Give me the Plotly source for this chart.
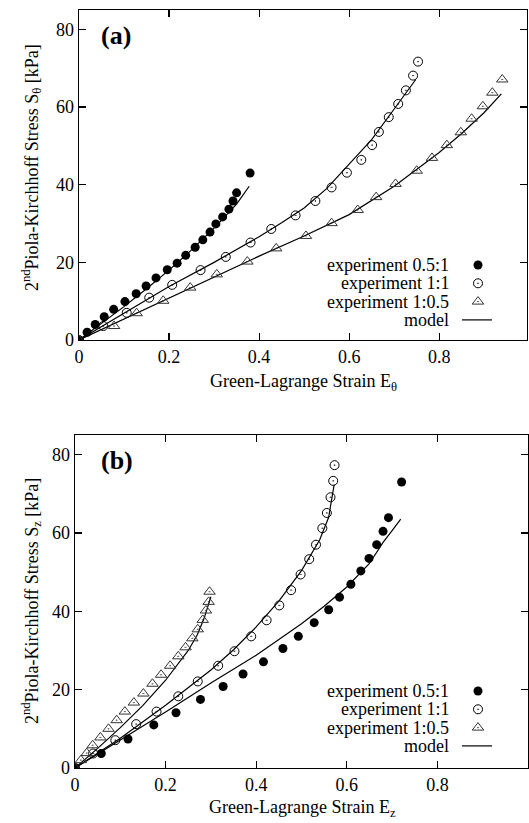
import plotly.graph_objects as go

W, H = 529, 823

# ---------------- Panel (a): circumferential ----------------
a_exp_05_1_x = [0, 0.018, 0.036, 0.056, 0.077, 0.102, 0.127, 0.149, 0.171, 0.196, 0.218,
                0.237, 0.258, 0.275, 0.291, 0.304, 0.319, 0.333, 0.342, 0.350, 0.380]
a_exp_05_1_y = [0, 2.0, 4.0, 6.0, 7.9, 9.9, 11.9, 13.9, 16.0, 18.1, 19.8,
                21.8, 23.9, 25.8, 27.8, 29.9, 31.7, 33.7, 35.8, 37.9, 43.0]

a_exp_1_1_x = [0, 0.054, 0.106, 0.156, 0.207, 0.270, 0.326, 0.381, 0.427, 0.481, 0.525,
               0.561, 0.595, 0.627, 0.651, 0.666, 0.688, 0.709, 0.726, 0.742, 0.753]
a_exp_1_1_y = [0, 3.6, 7.0, 10.9, 14.2, 18.0, 21.4, 25.1, 28.6, 32.1, 35.8,
               39.3, 43.1, 46.4, 50.2, 53.6, 57.4, 60.8, 64.3, 68.1, 71.7]

a_exp_1_05_x = [0, 0.078, 0.128, 0.187, 0.247, 0.306, 0.374, 0.438, 0.504, 0.561, 0.619,
                0.660, 0.703, 0.750, 0.784, 0.817, 0.848, 0.872, 0.897, 0.918, 0.940]
a_exp_1_05_y = [0, 3.6, 6.9, 10.1, 13.5, 16.9, 20.2, 23.6, 26.8, 30.1, 33.5,
                36.8, 40.2, 43.6, 46.9, 50.2, 53.5, 57.0, 60.2, 63.7, 67.1]

a_mod_05_1_x = [0, 0.05, 0.10, 0.15, 0.20, 0.25, 0.30, 0.35, 0.378]
a_mod_05_1_y = [0, 4.2, 8.6, 13.2, 18.0, 23.2, 28.8, 35.0, 39.6]

a_mod_1_1_x = [0, 0.10, 0.20, 0.30, 0.40, 0.45, 0.50, 0.55, 0.60, 0.65, 0.70, 0.748]
a_mod_1_1_y = [0, 6.8, 13.8, 20.0, 26.6, 30.2, 34.0, 39.0, 45.2, 51.6, 59.5, 67.1]

a_mod_1_05_x = [0, 0.10, 0.20, 0.30, 0.40, 0.50, 0.60, 0.70, 0.80, 0.85, 0.90, 0.938]
a_mod_1_05_y = [0, 5.4, 10.8, 16.3, 21.6, 26.8, 32.3, 39.6, 48.3, 53.2, 58.6, 63.4]

# ---------------- Panel (b): axial ----------------
b_exp_05_1_x = [0, 0.058, 0.117, 0.174, 0.223, 0.277, 0.327, 0.371, 0.416, 0.459, 0.493,
                0.528, 0.560, 0.584, 0.609, 0.631, 0.649, 0.666, 0.680, 0.692, 0.721]
b_exp_05_1_y = [0, 3.7, 7.4, 11.0, 14.1, 17.5, 20.8, 24.0, 27.1, 30.5, 33.6,
                37.1, 40.4, 43.6, 46.9, 50.3, 53.5, 57.0, 60.4, 63.9, 73.0]

b_exp_1_1_x = [0, 0.040, 0.089, 0.135, 0.180, 0.228, 0.271, 0.316, 0.352, 0.389, 0.423,
               0.451, 0.477, 0.498, 0.517, 0.532, 0.546, 0.556, 0.564, 0.570, 0.573]
b_exp_1_1_y = [0, 3.7, 7.1, 11.2, 14.4, 18.3, 22.1, 26.1, 29.8, 33.6, 37.7,
               41.5, 45.4, 49.4, 53.3, 57.0, 61.2, 65.1, 69.1, 73.3, 77.3]

b_exp_1_05_x = [0, 0.013, 0.026, 0.039, 0.056, 0.074, 0.092, 0.110, 0.130, 0.151, 0.171,
                0.190, 0.210, 0.228, 0.244, 0.259, 0.271, 0.282, 0.289, 0.295, 0.297]
b_exp_1_05_y = [0, 2.0, 3.8, 5.8, 7.8, 10.0, 12.2, 14.4, 16.7, 19.0, 21.5,
                23.8, 26.1, 28.5, 30.8, 33.1, 35.4, 37.8, 40.2, 42.4, 45.0]

b_mod_05_1_x = [0, 0.10, 0.20, 0.30, 0.40, 0.45, 0.50, 0.55, 0.60, 0.65, 0.68, 0.70, 0.719]
b_mod_05_1_y = [0, 7.1, 14.3, 21.7, 28.8, 32.8, 36.8, 41.3, 46.2, 52.2, 57.6, 60.6, 63.5]

b_mod_1_1_x = [0, 0.10, 0.20, 0.30, 0.35, 0.40, 0.45, 0.50, 0.54, 0.56, 0.572]
b_mod_1_1_y = [0, 7.6, 16.0, 25.0, 30.2, 36.0, 42.6, 50.4, 58.2, 64.0, 72.3]

b_mod_1_05_x = [0, 0.05, 0.10, 0.15, 0.20, 0.25, 0.27, 0.285, 0.30]
b_mod_1_05_y = [0, 5.0, 10.3, 16.0, 22.4, 30.0, 34.0, 38.2, 43.7]

x_ticks = [0, 0.2, 0.4, 0.6, 0.8, 1]
y_ticks = [0, 20, 40, 60, 80]
legend_labels = ["experiment 0.5:1", "experiment 1:1", "experiment 1:0.5", "model"]

FONT = "Liberation Serif, Times New Roman, serif"
M_FILLED = dict(symbol="circle", size=9, color="black")
M_OPEN = dict(symbol="circle-open-dot", size=9, color="black", line=dict(width=1))
M_TRI = dict(symbol="triangle-up-open-dot", size=10, color="#333", line=dict(width=1))
LINE = dict(color="black", width=1.2)

fig = go.Figure()

def add_panel(xa, ya, mods, exps):
    for mx, my in mods:
        fig.add_trace(go.Scatter(x=mx, y=my, mode="lines", line=LINE,
                                 xaxis=xa, yaxis=ya, showlegend=False))
    for (ex, ey), mk in zip(exps, [M_FILLED, M_OPEN, M_TRI]):
        fig.add_trace(go.Scatter(x=ex, y=ey, mode="markers", marker=mk,
                                 xaxis=xa, yaxis=ya, showlegend=False))

add_panel("x", "y",
          [(a_mod_05_1_x, a_mod_05_1_y), (a_mod_1_1_x, a_mod_1_1_y), (a_mod_1_05_x, a_mod_1_05_y)],
          [(a_exp_05_1_x, a_exp_05_1_y), (a_exp_1_1_x, a_exp_1_1_y), (a_exp_1_05_x, a_exp_1_05_y)])
add_panel("x2", "y2",
          [(b_mod_05_1_x, b_mod_05_1_y), (b_mod_1_1_x, b_mod_1_1_y), (b_mod_1_05_x, b_mod_1_05_y)],
          [(b_exp_05_1_x, b_exp_05_1_y), (b_exp_1_1_x, b_exp_1_1_y), (b_exp_1_05_x, b_exp_1_05_y)])

# ---- legends (keys drawn on a pixel-unit overlay axis) ----
annotations = []
for top_px in (265, 691):
    rows = [top_px + 18.3 * i for i in range(4)]
    for lab, ry in zip(legend_labels, rows):
        annotations.append(dict(x=450 / W, y=1 - ry / H, xref="paper", yref="paper",
                                text=lab, showarrow=False, xanchor="right", yanchor="middle",
                                borderpad=0,
                                font=dict(family=FONT, size=18, color="black")))
    for mk, ry in zip([M_FILLED, M_OPEN, M_TRI], rows[:3]):
        fig.add_trace(go.Scatter(x=[478], y=[ry], mode="markers", marker=mk,
                                 xaxis="x3", yaxis="y3", showlegend=False))
    fig.add_trace(go.Scatter(x=[462, 492], y=[rows[3], rows[3]], mode="lines", line=LINE,
                             xaxis="x3", yaxis="y3", showlegend=False))

# panel labels
annotations.append(dict(x=99 / W, y=1 - 35 / H, xref="paper", yref="paper", text="<b>(a)</b>",
                        showarrow=False, xanchor="left", yanchor="middle",
                        font=dict(family=FONT, size=26, color="black")))
annotations.append(dict(x=99 / W, y=1 - 460 / H, xref="paper", yref="paper", text="<b>(b)</b>",
                        showarrow=False, xanchor="left", yanchor="middle",
                        font=dict(family=FONT, size=26, color="black")))
# axis titles
annotations.append(dict(x=303 / W, y=1 - 382 / H, xref="paper", yref="paper",
                        text="Green-Lagrange Strain E<sub>θ</sub>", showarrow=False,
                        xanchor="center", yanchor="middle",
                        font=dict(family=FONT, size=18, color="black")))
annotations.append(dict(x=302 / W, y=1 - 808 / H, xref="paper", yref="paper",
                        text="Green-Lagrange Strain E<sub>z</sub>", showarrow=False,
                        xanchor="center", yanchor="middle",
                        font=dict(family=FONT, size=18, color="black")))
annotations.append(dict(x=31 / W, y=1 - 168 / H, xref="paper", yref="paper",
                        text="2<sup>nd</sup>Piola-Kirchhoff Stress S<sub>θ</sub> [kPa]",
                        showarrow=False, textangle=-90, xanchor="center", yanchor="middle",
                        font=dict(family=FONT, size=18, color="black")))
annotations.append(dict(x=31 / W, y=1 - 601 / H, xref="paper", yref="paper",
                        text="2<sup>nd</sup>Piola-Kirchhoff Stress S<sub>z</sub> [kPa]",
                        showarrow=False, textangle=-90, xanchor="center", yanchor="middle",
                        font=dict(family=FONT, size=18, color="black")))

ax_common = dict(showline=True, linecolor="black", linewidth=1.3, mirror="allticks",
                 ticks="inside", ticklen=7, tickwidth=1.2, tickcolor="black",
                 showgrid=False, zeroline=False, automargin=False,
                 tickfont=dict(family=FONT, size=18, color="black"))

fig.update_layout(
    width=W, height=H, margin=dict(l=0, r=0, t=0, b=0, autoexpand=False),
    paper_bgcolor="white", plot_bgcolor="rgba(0,0,0,0)", showlegend=False,
    xaxis=dict(domain=[79 / W, 527 / W], anchor="y", range=[0, 0.995],
               tickvals=x_ticks, **ax_common),
    yaxis=dict(domain=[1 - 340 / H, 1 - 10 / H], anchor="x", range=[0, 85],
               tickvals=y_ticks, **ax_common),
    xaxis2=dict(domain=[75 / W, 528 / W], anchor="y2", range=[0, 1.0],
                tickvals=x_ticks, **ax_common),
    yaxis2=dict(domain=[1 - 768 / H, 1 - 435 / H], anchor="x2", range=[0, 85],
                tickvals=y_ticks, **ax_common),
    xaxis3=dict(domain=[0, 1], anchor="y3", range=[0, W], visible=False, fixedrange=True,
                showticklabels=False),
    yaxis3=dict(domain=[0, 1], anchor="x3", range=[H, 0], visible=False, fixedrange=True,
                showticklabels=False),
    annotations=annotations,
)

fig.write_html("out.html",
               config={"displayModeBar": False, "staticPlot": True},
               post_script="document.body.style.margin='0';document.body.style.overflow='hidden';")
